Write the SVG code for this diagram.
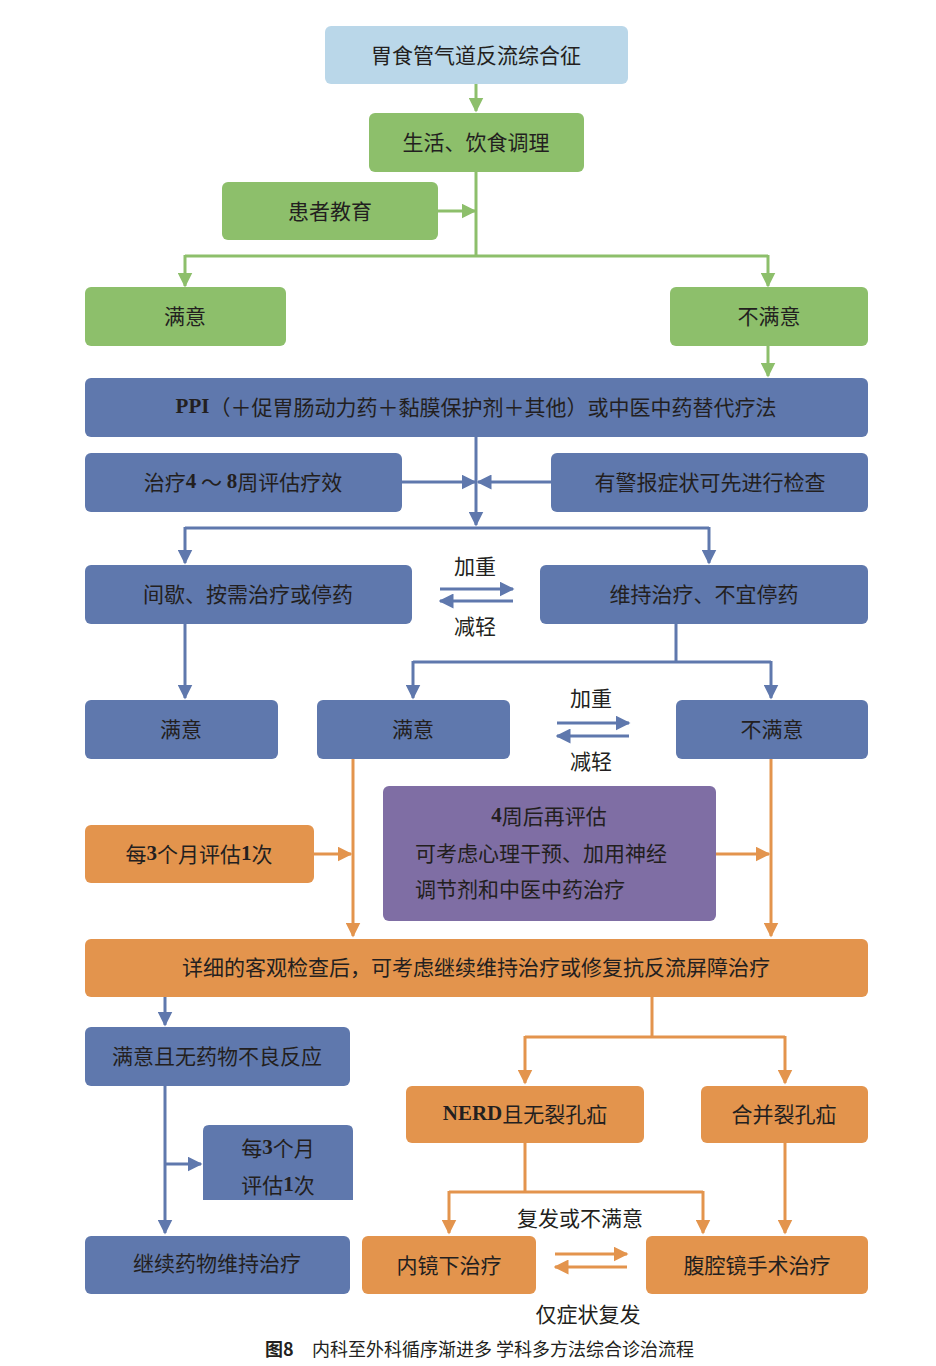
<svg xmlns="http://www.w3.org/2000/svg" width="936" height="1366" viewBox="0 0 936 1366">
<style>
text{font-family:"Noto Sans CJK SC","Liberation Sans",sans-serif;font-size:21px;fill:#231f20;text-anchor:middle;dominant-baseline:central}
.b{font-family:"Liberation Serif","Noto Sans CJK SC",serif;font-weight:bold}
.lb{fill:#bad7e9}.g{fill:#8dbf6b}.bl{fill:#5f78ad}.o{fill:#e3944d}.p{fill:#7f6ea4}
.lg{stroke:#8dbf6b;stroke-width:3;fill:none}
.lbl{stroke:#5f78ad;stroke-width:3;fill:none}
.lo{stroke:#e3944d;stroke-width:3;fill:none}
.cap{font-size:18px;text-anchor:start}
</style>
<defs>
<marker id="ag" viewBox="0 0 10 10" refX="9" refY="5" markerWidth="5" markerHeight="5" orient="auto" markerUnits="strokeWidth"><path d="M0,0L10,5L0,10z" fill="#8dbf6b"/></marker>
<marker id="ab" viewBox="0 0 10 10" refX="9" refY="5" markerWidth="5" markerHeight="5" orient="auto" markerUnits="strokeWidth"><path d="M0,0L10,5L0,10z" fill="#5f78ad"/></marker>
<marker id="ao" viewBox="0 0 10 10" refX="9" refY="5" markerWidth="5" markerHeight="5" orient="auto" markerUnits="strokeWidth"><path d="M0,0L10,5L0,10z" fill="#e3944d"/></marker>
</defs>
<g id="connectors">
<path class="lg" d="M476,84V111" marker-end="url(#ag)"/>
<path class="lg" d="M476,172V256"/>
<path class="lg" d="M438,211H475" marker-end="url(#ag)"/>
<path class="lg" d="M185,256H768"/>
<path class="lg" d="M185,255V286" marker-end="url(#ag)"/>
<path class="lg" d="M768,255V286" marker-end="url(#ag)"/>
<path class="lg" d="M768,346V376" marker-end="url(#ag)"/>
<path class="lbl" d="M476,437V525" marker-end="url(#ab)"/>
<path class="lbl" d="M402,482H475" marker-end="url(#ab)"/>
<path class="lbl" d="M551,482H478" marker-end="url(#ab)"/>
<path class="lbl" d="M185,528H709"/>
<path class="lbl" d="M185,527V563" marker-end="url(#ab)"/>
<path class="lbl" d="M709,527V563" marker-end="url(#ab)"/>
<path class="lbl" d="M440,589H513" marker-end="url(#ab)"/>
<path class="lbl" d="M513,601H440" marker-end="url(#ab)"/>
<path class="lbl" d="M185,624V698" marker-end="url(#ab)"/>
<path class="lbl" d="M676,624V662M413,662H771"/>
<path class="lbl" d="M413,661V698" marker-end="url(#ab)"/>
<path class="lbl" d="M771,661V698" marker-end="url(#ab)"/>
<path class="lbl" d="M557,723H629" marker-end="url(#ab)"/>
<path class="lbl" d="M629,736H557" marker-end="url(#ab)"/>
<path class="lo" d="M353,759V936" marker-end="url(#ao)"/>
<path class="lo" d="M771,759V936" marker-end="url(#ao)"/>
<path class="lo" d="M314,854H351" marker-end="url(#ao)"/>
<path class="lo" d="M716,854H769" marker-end="url(#ao)"/>
<path class="lbl" d="M165,997V1025" marker-end="url(#ab)"/>
<path class="lbl" d="M165,1086V1233" marker-end="url(#ab)"/>
<path class="lbl" d="M165,1164H201" marker-end="url(#ab)"/>
<path class="lo" d="M652,997V1037M525,1037H785"/>
<path class="lo" d="M525,1036V1083" marker-end="url(#ao)"/>
<path class="lo" d="M785,1036V1083" marker-end="url(#ao)"/>
<path class="lo" d="M525,1143V1192M449,1192H703"/>
<path class="lo" d="M449,1191V1233" marker-end="url(#ao)"/>
<path class="lo" d="M703,1191V1233" marker-end="url(#ao)"/>
<path class="lo" d="M785,1143V1233" marker-end="url(#ao)"/>
<path class="lo" d="M555,1254H627" marker-end="url(#ao)"/>
<path class="lo" d="M627,1267H555" marker-end="url(#ao)"/>
</g>
<g id="n1"><rect class="lb" x="325" y="26" width="303" height="58" rx="6"/><text x="476" y="54">胃食管气道反流综合征</text></g>
<g id="n2"><rect class="g" x="369" y="113" width="215" height="59" rx="6"/><text x="476" y="141">生活、饮食调理</text></g>
<g id="n3"><rect class="g" x="222" y="182" width="216" height="58" rx="6"/><text x="330" y="210">患者教育</text></g>
<g id="n4"><rect class="g" x="85" y="287" width="201" height="59" rx="6"/><text x="185" y="315">满意</text></g>
<g id="n5"><rect class="g" x="670" y="287" width="198" height="59" rx="6"/><text x="769" y="315">不满意</text></g>
<g id="n6"><rect class="bl" x="85" y="378" width="783" height="59" rx="6"/><text x="476" y="406"><tspan class="b">PPI</tspan>（＋促胃肠动力药＋黏膜保护剂＋其他）或中医中药替代疗法</text></g>
<g id="n7"><rect class="bl" x="85" y="453" width="317" height="59" rx="6"/><text x="243" y="481">治疗<tspan class="b">4</tspan> ～ <tspan class="b">8</tspan>周评估疗效</text></g>
<g id="n8"><rect class="bl" x="551" y="453" width="317" height="59" rx="6"/><text x="710" y="481">有警报症状可先进行检查</text></g>
<g id="n9"><rect class="bl" x="85" y="565" width="327" height="59" rx="6"/><text x="248" y="593">间歇、按需治疗或停药</text></g>
<g id="n10"><rect class="bl" x="540" y="565" width="328" height="59" rx="6"/><text x="704" y="593">维持治疗、不宜停药</text></g>
<g id="l1"><text x="475" y="565">加重</text><text x="475" y="625">减轻</text></g>
<g id="n11"><rect class="bl" x="85" y="700" width="193" height="59" rx="6"/><text x="181" y="728">满意</text></g>
<g id="n12"><rect class="bl" x="317" y="700" width="193" height="59" rx="6"/><text x="413" y="728">满意</text></g>
<g id="n13"><rect class="bl" x="676" y="700" width="192" height="59" rx="6"/><text x="772" y="728">不满意</text></g>
<g id="l2"><text x="591" y="697">加重</text><text x="591" y="760">减轻</text></g>
<g id="n14"><rect class="o" x="85" y="825" width="229" height="58" rx="6"/><text x="199" y="853">每<tspan class="b">3</tspan>个月评估<tspan class="b">1</tspan>次</text></g>
<g id="n15"><rect class="p" x="383" y="786" width="333" height="135" rx="6"/><text x="549" y="815"><tspan class="b">4</tspan>周后再评估</text><text x="415" y="852" style="text-anchor:start">可考虑心理干预、加用神经</text><text x="415" y="888" style="text-anchor:start">调节剂和中医中药治疗</text></g>
<g id="n16"><rect class="o" x="85" y="939" width="783" height="58" rx="6"/><text x="476" y="966">详细的客观检查后，可考虑继续维持治疗或修复抗反流屏障治疗</text></g>
<g id="n17"><rect class="bl" x="85" y="1027" width="265" height="59" rx="6"/><text x="217" y="1055">满意且无药物不良反应</text></g>
<g id="n18"><path class="bl" d="M209,1125H347Q353,1125 353,1131V1200H203V1131Q203,1125 209,1125Z"/><text x="278" y="1147">每<tspan class="b">3</tspan>个月</text><text x="278" y="1184">评估<tspan class="b">1</tspan>次</text></g>
<g id="n19"><rect class="bl" x="85" y="1236" width="265" height="58" rx="6"/><text x="217" y="1262">继续药物维持治疗</text></g>
<g id="n20"><rect class="o" x="406" y="1086" width="238" height="57" rx="6"/><text x="525" y="1113"><tspan class="b">NERD</tspan>且无裂孔疝</text></g>
<g id="n21"><rect class="o" x="701" y="1086" width="167" height="57" rx="6"/><text x="784" y="1113">合并裂孔疝</text></g>
<g id="l3"><text x="580" y="1217">复发或不满意</text></g>
<g id="n22"><rect class="o" x="362" y="1236" width="174" height="58" rx="6"/><text x="449" y="1264">内镜下治疗</text></g>
<g id="n23"><rect class="o" x="646" y="1236" width="222" height="58" rx="6"/><text x="757" y="1264">腹腔镜手术治疗</text></g>
<g id="l4"><text x="588" y="1313">仅症状复发</text></g>
<g id="caption"><text class="cap" x="265" y="1348" font-weight="bold">图8</text><text class="cap" x="312" y="1348" xml:space="preserve">内科至外科循序渐进多 学科多方法综合诊治流程</text></g>
</svg>
